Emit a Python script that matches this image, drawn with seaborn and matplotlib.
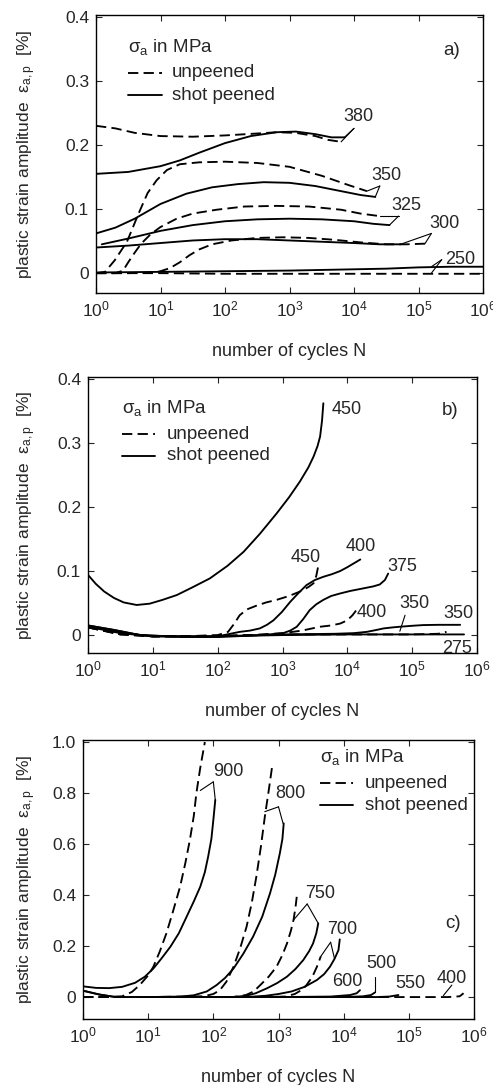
import numpy as np
import pandas as pd
import matplotlib
matplotlib.use("Agg")
import matplotlib.pyplot as plt
import seaborn as sns

# ---------------- data (log10 N, plastic strain amplitude in %) ----------------
# panel a
a380u_logN = [0.0, 0.3, 0.6, 1.0, 1.5, 2.0, 2.5, 2.8, 3.1, 3.4, 3.6, 3.8]
a380u_eps = [0.230, 0.226, 0.219, 0.214, 0.213, 0.215, 0.218, 0.220, 0.219, 0.214, 0.208, 0.205]
a380s_logN = [0.0, 0.5, 1.0, 1.3, 1.6, 2.0, 2.4, 2.8, 3.1, 3.4, 3.65, 3.85]
a380s_eps = [0.155, 0.158, 0.167, 0.176, 0.188, 0.203, 0.214, 0.220, 0.221, 0.217, 0.212, 0.212]
a350u_logN = [0.0, 0.14, 0.29, 0.48, 0.66, 0.8, 0.94, 1.1, 1.3, 1.6, 2.0, 2.5, 3.0, 3.5, 3.9, 4.2]
a350u_eps = [0.0, 0.002, 0.02, 0.049, 0.093, 0.125, 0.145, 0.161, 0.170, 0.173, 0.174, 0.172, 0.166, 0.152, 0.138, 0.128]
a350s_logN = [0.0, 0.3, 0.6, 1.0, 1.4, 1.8, 2.2, 2.6, 3.0, 3.4, 3.8, 4.1, 4.33]
a350s_eps = [0.062, 0.071, 0.085, 0.108, 0.124, 0.134, 0.139, 0.142, 0.141, 0.136, 0.128, 0.122, 0.119]
a325u_logN = [0.0, 0.3, 0.42, 0.5, 0.6, 0.7, 0.85, 1.0, 1.25, 1.5, 1.87, 2.3, 2.8, 3.3, 3.8, 4.1, 4.4]
a325u_eps = [0.0, 0.0, 0.004, 0.017, 0.032, 0.046, 0.061, 0.072, 0.085, 0.093, 0.099, 0.104, 0.105, 0.104, 0.099, 0.093, 0.089]
a325s_logN = [0.09, 0.5, 1.0, 1.5, 2.0, 2.5, 3.0, 3.5, 4.0, 4.3, 4.55]
a325s_eps = [0.045, 0.054, 0.066, 0.075, 0.081, 0.084, 0.085, 0.084, 0.081, 0.077, 0.075]
a300u_logN = [0.0, 0.5, 0.9, 1.0, 1.15, 1.3, 1.45, 1.6, 1.8, 2.1, 2.5, 2.9, 3.3, 3.7, 4.1, 4.5, 4.8, 5.1]
a300u_eps = [0.0, 0.0, 0.001, 0.003, 0.008, 0.017, 0.028, 0.037, 0.045, 0.051, 0.055, 0.056, 0.055, 0.052, 0.048, 0.045, 0.045, 0.046]
a300s_logN = [0.0, 0.5, 1.0, 1.5, 2.0, 2.5, 3.0, 3.5, 4.0, 4.4, 4.72]
a300s_eps = [0.040, 0.043, 0.047, 0.051, 0.053, 0.053, 0.051, 0.049, 0.047, 0.045, 0.045]
a250u_logN = [0.0, 1.0, 2.0, 3.0, 4.0, 5.0, 6.0]
a250u_eps = [0.0, 0.0, -0.001, -0.001, -0.001, -0.001, -0.001]
a250s_logN = [0.0, 1.0, 2.0, 3.0, 4.0, 4.5, 5.0, 5.5, 6.0]
a250s_eps = [0.001, 0.002, 0.003, 0.004, 0.006, 0.007, 0.009, 0.010, 0.010]

# panel b
b450s_logN = [0.0, 0.12, 0.25, 0.4, 0.55, 0.75, 0.95, 1.15, 1.37, 1.6, 1.88, 2.15, 2.4, 2.65, 2.91, 3.1, 3.27, 3.4, 3.48, 3.54, 3.58, 3.61, 3.63]
b450s_eps = [0.094, 0.080, 0.068, 0.058, 0.051, 0.047, 0.049, 0.055, 0.0625, 0.074, 0.0885, 0.108, 0.130, 0.158, 0.190, 0.215, 0.240, 0.262, 0.279, 0.295, 0.310, 0.335, 0.362]
b450u_logN = [0.0, 0.5, 1.0, 1.5, 2.0, 2.16, 2.25, 2.34, 2.45, 2.6, 2.75, 2.91, 3.1, 3.27, 3.4, 3.48, 3.52, 3.55]
b450u_eps = [0.012, 0.002, -0.002, -0.002, 0.0, 0.005, 0.017, 0.031, 0.040, 0.046, 0.051, 0.055, 0.061, 0.068, 0.075, 0.081, 0.092, 0.107]
b400s_logN = [0.0, 0.4, 0.8, 1.5, 2.0, 2.34, 2.5, 2.65, 2.76, 2.86, 2.99, 3.12, 3.25, 3.37, 3.5, 3.63, 3.76, 3.89, 4.0, 4.1, 4.2]
b400s_eps = [0.015, 0.008, 0.0, -0.003, -0.002, 0.005, 0.007, 0.0104, 0.016, 0.023, 0.036, 0.052, 0.066, 0.078, 0.086, 0.091, 0.095, 0.100, 0.106, 0.112, 0.118]
b375s_logN = [0.0, 0.4, 0.8, 1.5, 2.0, 2.5, 2.8, 3.01, 3.12, 3.22, 3.32, 3.42, 3.52, 3.63, 3.75, 3.89, 4.05, 4.25, 4.4, 4.5, 4.58, 4.63]
b375s_eps = [0.015, 0.008, 0.0, -0.003, -0.003, -0.001, 0.001, 0.003, 0.007, 0.013, 0.025, 0.039, 0.048, 0.055, 0.061, 0.065, 0.069, 0.073, 0.076, 0.079, 0.086, 0.096]
b400u_logN = [0.0, 0.5, 1.0, 2.0, 2.5, 3.01, 3.3, 3.58, 3.75, 3.89, 4.0, 4.08, 4.14]
b400u_eps = [0.012, 0.001, -0.002, -0.002, 0.0, 0.003, 0.007, 0.013, 0.015, 0.018, 0.023, 0.031, 0.039]
b350s_logN = [0.0, 0.5, 1.0, 2.0, 3.0, 3.8, 4.1, 4.3, 4.45, 4.56, 4.7, 4.81, 5.0, 5.17, 5.4, 5.74]
b350s_eps = [0.014, 0.004, -0.002, -0.002, 0.001, 0.002, 0.003, 0.005, 0.008, 0.0104, 0.012, 0.013, 0.0145, 0.0156, 0.016, 0.016]
b350u_logN = [0.0, 0.5, 1.0, 2.0, 3.0, 4.0, 5.0, 5.4, 5.53]
b350u_eps = [0.012, 0.001, -0.002, -0.001, 0.001, 0.001, 0.001, 0.002, 0.005]
b275s_logN = [0.0, 0.5, 1.0, 2.0, 3.0, 4.0, 5.0, 5.8]
b275s_eps = [0.013, 0.003, -0.002, -0.002, 0.0, 0.001, 0.001, 0.001]

# panel c
c900u_logN = [0.0, 0.3, 0.6, 0.75, 0.87, 1.0, 1.08, 1.18, 1.28, 1.38, 1.49, 1.57, 1.64, 1.70, 1.74, 1.80, 1.87]
c900u_eps = [0.0, 0.0, 0.003, 0.02, 0.047, 0.085, 0.119, 0.18, 0.25, 0.335, 0.433, 0.525, 0.616, 0.71, 0.80, 0.90, 1.0]
c900s_logN = [0.0, 0.2, 0.4, 0.6, 0.8, 0.95, 1.08, 1.2, 1.34, 1.47, 1.59, 1.7, 1.8, 1.87, 1.92, 1.97, 2.0, 2.03]
c900s_eps = [0.042, 0.036, 0.035, 0.04, 0.056, 0.08, 0.112, 0.15, 0.197, 0.25, 0.315, 0.375, 0.433, 0.49, 0.55, 0.62, 0.694, 0.773]
c800u_logN = [0.0, 1.0, 1.85, 2.0, 2.1, 2.2, 2.31, 2.41, 2.51, 2.59, 2.66, 2.73, 2.79, 2.85, 2.9]
c800u_eps = [0.0, 0.0, 0.003, 0.012, 0.027, 0.06, 0.119, 0.19, 0.276, 0.37, 0.472, 0.59, 0.707, 0.81, 0.90]
c800s_logN = [0.0, 0.25, 0.5, 1.0, 1.5, 1.7, 1.9, 2.05, 2.18, 2.31, 2.46, 2.61, 2.75, 2.87, 2.95, 3.02, 3.06, 3.08]
c800s_eps = [0.025, 0.01, 0.0, 0.0, 0.002, 0.007, 0.022, 0.047, 0.075, 0.112, 0.17, 0.237, 0.315, 0.407, 0.48, 0.563, 0.62, 0.681]
c750u_logN = [1.5, 2.3, 2.5, 2.62, 2.72, 2.85, 2.97, 3.06, 3.13, 3.19, 3.23, 3.26, 3.28]
c750u_eps = [0.0, 0.0, 0.008, 0.022, 0.047, 0.08, 0.119, 0.165, 0.21, 0.26, 0.302, 0.35, 0.393]
c750s_logN = [1.5, 2.3, 2.5, 2.65, 2.82, 2.98, 3.13, 3.26, 3.38, 3.47, 3.53, 3.58, 3.61]
c750s_eps = [0.0, 0.0, 0.005, 0.015, 0.034, 0.055, 0.08, 0.11, 0.145, 0.18, 0.21, 0.25, 0.289]
c700u_logN = [2.0, 2.8, 3.1, 3.25, 3.35, 3.43, 3.52, 3.59, 3.65]
c700u_eps = [0.0, 0.0, 0.002, 0.012, 0.027, 0.047, 0.08, 0.119, 0.16]
c700s_logN = [2.0, 2.5, 2.8, 3.0, 3.2, 3.4, 3.59, 3.7, 3.79, 3.86, 3.92, 3.94]
c700s_eps = [0.0, 0.0, 0.005, 0.012, 0.022, 0.04, 0.067, 0.09, 0.119, 0.15, 0.184, 0.226]
c600s_logN = [0.0, 0.25, 0.5, 1.0, 2.0, 3.0, 3.8, 4.1, 4.2, 4.25]
c600s_eps = [0.025, 0.01, 0.0, 0.0, 0.0, 0.0, 0.002, 0.008, 0.015, 0.027]
c500s_logN = [3.0, 4.0, 4.3, 4.42, 4.48]
c500s_eps = [0.0, 0.0, 0.003, 0.008, 0.018]
c550s_logN = [3.0, 4.0, 4.5, 4.7, 4.84]
c550s_eps = [0.0, 0.0, 0.0, 0.002, 0.008]
c400u_logN = [0.0, 1.0, 2.0, 3.0, 4.0, 5.0, 5.6, 5.78, 5.84]
c400u_eps = [0.0, 0.0, 0.0, 0.0, 0.0, 0.0, 0.0, 0.003, 0.015]

TREAT = ["unpeened", "shot peened"]
X_TICKS = [1e0, 1e1, 1e2, 1e3, 1e4, 1e5, 1e6]
Y_TICKS_AB = [0.0, 0.1, 0.2, 0.3, 0.4]
Y_TICKLABELS_AB = ["0", "0.1", "0.2", "0.3", "0.4"]
Y_TICKS_C = [0.0, 0.2, 0.4, 0.6, 0.8, 1.0]
Y_TICKLABELS_C = ["0", "0.2", "0.4", "0.6", "0.8", "1.0"]

curves_a = [
    ("380u", TREAT[0], a380u_logN, a380u_eps), ("380s", TREAT[1], a380s_logN, a380s_eps),
    ("350u", TREAT[0], a350u_logN, a350u_eps), ("350s", TREAT[1], a350s_logN, a350s_eps),
    ("325u", TREAT[0], a325u_logN, a325u_eps), ("325s", TREAT[1], a325s_logN, a325s_eps),
    ("300u", TREAT[0], a300u_logN, a300u_eps), ("300s", TREAT[1], a300s_logN, a300s_eps),
    ("250u", TREAT[0], a250u_logN, a250u_eps), ("250s", TREAT[1], a250s_logN, a250s_eps),
]
curves_b = [
    ("450s", TREAT[1], b450s_logN, b450s_eps), ("450u", TREAT[0], b450u_logN, b450u_eps),
    ("400s", TREAT[1], b400s_logN, b400s_eps), ("375s", TREAT[1], b375s_logN, b375s_eps),
    ("400u", TREAT[0], b400u_logN, b400u_eps), ("350s", TREAT[1], b350s_logN, b350s_eps),
    ("350u", TREAT[0], b350u_logN, b350u_eps), ("275s", TREAT[1], b275s_logN, b275s_eps),
]
curves_c = [
    ("900u", TREAT[0], c900u_logN, c900u_eps), ("900s", TREAT[1], c900s_logN, c900s_eps),
    ("800u", TREAT[0], c800u_logN, c800u_eps), ("800s", TREAT[1], c800s_logN, c800s_eps),
    ("750u", TREAT[0], c750u_logN, c750u_eps), ("750s", TREAT[1], c750s_logN, c750s_eps),
    ("700u", TREAT[0], c700u_logN, c700u_eps), ("700s", TREAT[1], c700s_logN, c700s_eps),
    ("600s", TREAT[1], c600s_logN, c600s_eps), ("500s", TREAT[1], c500s_logN, c500s_eps),
    ("550s", TREAT[1], c550s_logN, c550s_eps), ("400u", TREAT[0], c400u_logN, c400u_eps),
]

# curve labels: (text, logN, eps)
labels_a = [("380", 4.07, 0.244), ("350", 4.51, 0.152), ("325", 4.81, 0.105), ("300", 5.41, 0.077), ("250", 5.64, 0.021)]
labels_b = [("450", 3.99, 0.352), ("450", 3.35, 0.121), ("400", 4.2, 0.138), ("375", 4.84, 0.107),
            ("400", 4.38, 0.035), ("350", 5.04, 0.049), ("350", 5.71, 0.034), ("275", 5.69, -0.021)]
labels_c = [("900", 2.23, 0.884), ("800", 3.18, 0.80), ("750", 3.64, 0.407), ("700", 3.97, 0.263),
            ("600", 4.05, 0.06), ("500", 4.58, 0.132), ("550", 5.02, 0.054), ("400", 5.66, 0.073)]

# pointer lines: (logN0, eps0, logN1, eps1)
ptr_a = [(3.85, 0.212, 4.0, 0.226), (3.8, 0.205, 4.0, 0.226),
         (4.33, 0.119, 4.40, 0.136), (4.2, 0.128, 4.40, 0.136),
         (4.55, 0.075, 4.69, 0.089), (4.4, 0.089, 4.69, 0.089),
         (4.72, 0.045, 5.2, 0.062), (5.1, 0.046, 5.2, 0.062),
         (5.2, 0.010, 5.36, 0.021), (5.2, 0.0, 5.36, 0.021)]
ptr_b = [(4.81, 0.006, 4.89, 0.031)]
ptr_c = [(1.80, 0.81, 2.0, 0.844), (2.03, 0.773, 2.0, 0.844),
         (2.79, 0.727, 3.0, 0.746), (3.07, 0.681, 3.0, 0.746),
         (3.23, 0.302, 3.44, 0.365), (3.61, 0.289, 3.44, 0.365),
         (3.65, 0.16, 3.80, 0.215), (3.86, 0.15, 3.80, 0.215),
         (4.48, 0.02, 4.48, 0.08), (5.53, 0.006, 5.66, 0.047)]

# ---------------- style ----------------
sns.set_style("ticks")
plt.rcParams["font.family"] = ["Liberation Sans", "DejaVu Sans"]
plt.rcParams["mathtext.fontset"] = "custom"
plt.rcParams["mathtext.rm"] = "Liberation Sans"
plt.rcParams["mathtext.it"] = "Liberation Sans:italic"
plt.rcParams["mathtext.bf"] = "Liberation Sans:bold"

fig = plt.figure(figsize=(4.93, 10.85), dpi=100)
W, H = 493.0, 1085.0
ax_a = fig.add_axes([96 / W, 1 - 293 / H, 387 / W, 278 / H])
ax_b = fig.add_axes([88 / W, 1 - 653 / H, 389 / W, 276 / H])
ax_c = fig.add_axes([83 / W, 1 - 1019 / H, 391 / W, 279 / H])

DASH = (5.5, 2.8)


def to_df(curves):
    rows = []
    for name, treat, lg, ep in curves:
        for l, e in zip(lg, ep):
            rows.append({"curve": name, "treatment": treat, "N": 10.0 ** l, "eps": e})
    return pd.DataFrame(rows)


def draw_panel(ax, curves, labels, ptrs, ylim, yticks, yticklabels, tag, tag_xy,
               leg_xy, ylab_x):
    df = to_df(curves)
    sns.lineplot(data=df, x="N", y="eps", units="curve", style="treatment",
                 style_order=TREAT, dashes={TREAT[0]: DASH, TREAT[1]: ""},
                 estimator=None, sort=False, color="black", lw=1.35,
                 legend=False, ax=ax)
    ax.set_xscale("log")
    ax.set_xlim(1, 1e6)
    ax.set_ylim(*ylim)
    ax.set_xticks(X_TICKS)
    ax.xaxis.set_minor_locator(matplotlib.ticker.NullLocator())
    ax.set_yticks(yticks)
    ax.set_yticklabels(yticklabels)
    ax.tick_params(direction="in", length=4, width=0.8, top=True, right=True,
                   labelsize=12.5, pad=5)
    for s in ax.spines.values():
        s.set_linewidth(1.0)
        s.set_color("black")
    ax.set_xlabel("number of cycles N", fontsize=13, labelpad=17)
    ax.set_ylabel("plastic strain amplitude  ε$_{\\mathrm{a,p}}$  [%]", fontsize=12.5)
    ax.yaxis.set_label_coords(ylab_x, 0.5)
    for txt, lg, ep in labels:
        ax.text(10 ** lg, ep, txt, ha="center", va="center", fontsize=13)
    for l0, e0, l1, e1 in ptrs:
        ax.plot([10 ** l0, 10 ** l1], [e0, e1], color="black", lw=0.8)
    ax.text(tag_xy[0], tag_xy[1], tag, transform=ax.transAxes, ha="center",
            va="center", fontsize=13.5)
    lx, ly_title, ly1, ly2, x_sample_end, x_text = leg_xy
    ax.text(lx, ly_title, "σ$_{\\mathrm{a}}$ in MPa", transform=ax.transAxes,
            ha="left", va="center", fontsize=13.5)
    ax.plot([lx, x_sample_end], [ly1, ly1], transform=ax.transAxes, color="black",
            lw=1.35, dashes=DASH)
    ax.plot([lx, x_sample_end], [ly2, ly2], transform=ax.transAxes, color="black",
            lw=1.35)
    ax.text(x_text, ly1, TREAT[0], transform=ax.transAxes, ha="left", va="center",
            fontsize=13.5)
    ax.text(x_text, ly2, TREAT[1], transform=ax.transAxes, ha="left", va="center",
            fontsize=13.5)


draw_panel(ax_a, curves_a, labels_a, ptr_a, (-0.031, 0.403), Y_TICKS_AB, Y_TICKLABELS_AB,
           "a)", (0.919, 0.874), (0.083, 0.886, 0.792, 0.712, 0.170, 0.196), -0.15)
draw_panel(ax_b, curves_b, labels_b, ptr_b, (-0.028, 0.403), Y_TICKS_AB, Y_TICKLABELS_AB,
           "b)", (0.931, 0.880), (0.087, 0.887, 0.793, 0.714, 0.172, 0.202), -0.129)
draw_panel(ax_c, curves_c, labels_c, ptr_c, (-0.086, 1.008), Y_TICKS_C, Y_TICKLABELS_C,
           "c)", (0.947, 0.343), (0.606, 0.940, 0.845, 0.767, 0.691, 0.721), -0.115)

fig.savefig("out.png", dpi=100)
